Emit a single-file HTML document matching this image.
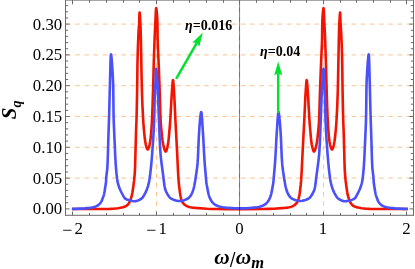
<!DOCTYPE html>
<html><head><meta charset="utf-8"><title>plot</title>
<style>html,body{margin:0;padding:0;background:#fff;}body{width:415px;height:269px;overflow:hidden;}svg{will-change:transform;display:block;position:absolute;left:0;top:0;}text{font-family:"Liberation Serif",serif;fill:#000;}</style></head><body>
<svg width="415" height="269" viewBox="0 0 415 269">
<rect x="0" y="0" width="415" height="269" fill="#fff"/>
<line x1="66" x2="413" y1="178.10" y2="178.10" stroke="#fcc48f" stroke-width="1" stroke-dasharray="4.6 4.61"/>
<line x1="66" x2="413" y1="147.30" y2="147.30" stroke="#fcc48f" stroke-width="1" stroke-dasharray="4.6 4.61"/>
<line x1="66" x2="413" y1="116.50" y2="116.50" stroke="#fcc48f" stroke-width="1" stroke-dasharray="4.6 4.61"/>
<line x1="66" x2="413" y1="85.70" y2="85.70" stroke="#fcc48f" stroke-width="1" stroke-dasharray="4.6 4.61"/>
<line x1="66" x2="413" y1="54.90" y2="54.90" stroke="#fcc48f" stroke-width="1" stroke-dasharray="4.6 4.61"/>
<line x1="66" x2="413" y1="24.10" y2="24.10" stroke="#fcc48f" stroke-width="1" stroke-dasharray="4.6 4.61"/>
<line x1="156.50" x2="156.50" y1="215" y2="0" stroke="#fcc48f" stroke-width="1" stroke-dasharray="4.6 4.61"/>
<line x1="239.50" x2="239.50" y1="215" y2="0" stroke="#fcc48f" stroke-width="1" stroke-dasharray="4.6 4.61"/>
<line x1="323.50" x2="323.50" y1="215" y2="0" stroke="#fcc48f" stroke-width="1" stroke-dasharray="4.6 4.61"/>
<path d="M71.90,209.00 L98.90,209.00 L110.00,208.90 L113.45,208.73 L118.07,208.24 L120.44,207.83 L123.06,207.19 L124.82,206.60 L125.65,206.24 L126.29,205.90 L126.75,205.59 L127.32,205.11 L128.25,204.07 L129.18,202.70 L129.89,201.23 L130.85,198.68 L131.58,196.38 L132.01,194.64 L132.45,192.28 L133.53,185.01 L134.08,180.69 L134.62,174.87 L134.95,170.08 L135.14,164.83 L135.89,136.64 L136.13,129.29 L136.48,120.75 L136.72,111.61 L137.12,90.91 L137.46,64.36 L137.72,53.11 L138.00,44.72 L138.36,35.88 L138.55,32.13 L139.11,23.90 L139.42,14.87 L139.54,12.81 L139.58,12.62 L139.62,12.63 L139.72,13.17 L139.99,16.60 L140.36,23.11 L140.61,29.16 L140.89,39.95 L141.60,77.60 L141.93,91.24 L142.46,106.09 L143.22,120.62 L143.53,125.25 L143.97,130.34 L144.69,137.52 L145.18,141.24 L145.77,144.35 L146.13,145.86 L146.55,147.31 L146.87,148.26 L147.20,148.99 L147.51,149.42 L147.66,149.50 L147.76,149.49 L148.02,149.29 L148.29,148.84 L148.63,148.06 L148.96,147.08 L149.65,144.48 L150.17,141.78 L150.53,139.12 L150.87,135.82 L151.42,129.38 L151.78,124.14 L152.22,115.15 L152.63,103.91 L153.12,87.87 L153.77,62.97 L154.48,41.99 L154.84,33.14 L155.36,22.72 L155.81,12.13 L156.01,9.18 L156.10,8.45 L156.20,8.20 L156.31,8.47 L156.45,9.30 L156.80,12.51 L157.15,16.95 L157.36,20.90 L157.48,26.06 L157.62,38.37 L157.73,43.01 L158.47,59.35 L159.26,78.98 L159.90,97.42 L160.36,113.77 L160.64,120.81 L160.82,123.95 L161.13,127.54 L162.09,136.96 L162.56,140.68 L163.17,144.19 L164.06,147.93 L164.47,149.31 L164.88,150.46 L165.24,151.18 L165.57,151.56 L165.79,151.58 L166.06,151.32 L166.34,150.78 L166.67,149.88 L167.31,147.48 L167.99,144.09 L168.37,141.62 L168.70,138.79 L169.93,124.88 L170.51,116.35 L171.54,97.32 L172.24,87.17 L172.50,83.73 L172.72,81.47 L172.91,80.36 L172.99,80.20 L173.07,80.31 L173.29,81.57 L173.55,84.42 L174.32,96.55 L175.45,120.98 L177.12,152.44 L178.01,171.17 L178.42,178.35 L178.80,182.99 L179.14,186.12 L180.00,193.12 L180.54,196.24 L181.10,198.63 L181.74,200.59 L182.07,201.38 L182.43,202.05 L182.94,202.84 L183.53,203.58 L184.16,204.25 L184.70,204.72 L186.00,205.59 L187.52,206.36 L188.98,206.92 L190.44,207.29 L192.61,207.61 L195.14,207.88 L206.72,208.76 L211.36,208.93 L216.46,209.05 L229.81,209.17 L245.84,209.19 L262.79,209.06 L269.24,208.90 L273.88,208.70 L284.71,207.87 L287.09,207.61 L289.26,207.29 L290.43,207.01 L291.60,206.61 L292.75,206.10 L293.82,205.52 L294.78,204.89 L295.44,204.35 L296.07,203.70 L296.76,202.84 L297.56,201.52 L298.11,200.19 L298.68,198.33 L299.22,195.94 L299.61,193.72 L299.94,191.34 L300.75,184.48 L301.12,180.45 L301.66,171.77 L302.58,152.44 L304.20,122.00 L305.35,97.00 L306.14,84.61 L306.40,81.70 L306.61,80.35 L306.69,80.20 L306.78,80.31 L306.96,81.35 L307.19,83.56 L307.45,86.97 L308.16,97.32 L309.19,116.35 L309.78,125.03 L311.02,138.94 L311.35,141.76 L311.75,144.27 L312.39,147.48 L313.08,150.02 L313.41,150.89 L313.69,151.38 L313.96,151.60 L314.18,151.53 L314.51,151.10 L314.87,150.33 L315.28,149.15 L315.74,147.56 L316.21,145.66 L316.63,143.68 L317.23,140.09 L317.64,136.66 L318.60,127.24 L318.89,123.80 L319.07,120.66 L319.34,113.77 L319.80,97.42 L320.44,78.98 L321.23,59.35 L321.97,43.01 L322.08,38.37 L322.22,26.06 L322.34,20.90 L322.55,16.95 L322.90,12.51 L323.25,9.30 L323.39,8.47 L323.50,8.20 L323.60,8.45 L323.69,9.18 L323.89,12.13 L324.34,22.72 L324.86,33.14 L325.22,41.99 L325.93,62.97 L326.58,87.87 L327.07,103.91 L327.48,115.15 L327.92,124.14 L328.28,129.38 L328.83,135.82 L329.17,139.12 L329.53,141.78 L330.05,144.48 L330.74,147.08 L331.07,148.06 L331.41,148.84 L331.68,149.29 L331.94,149.49 L332.04,149.50 L332.19,149.42 L332.50,148.99 L332.83,148.26 L333.15,147.31 L333.57,145.86 L333.93,144.35 L334.52,141.24 L335.01,137.52 L335.73,130.34 L336.17,125.25 L336.48,120.62 L337.24,106.09 L337.77,91.24 L338.10,77.60 L338.81,39.95 L339.09,29.16 L339.34,23.11 L339.71,16.60 L339.98,13.17 L340.08,12.63 L340.12,12.62 L340.16,12.81 L340.28,14.87 L340.59,23.90 L341.15,32.13 L341.34,35.88 L341.70,44.72 L341.98,53.11 L342.24,64.36 L342.58,90.91 L342.98,111.61 L343.22,120.75 L343.57,129.29 L343.81,136.64 L344.56,164.83 L344.75,170.08 L345.08,174.87 L345.62,180.69 L346.17,185.01 L347.25,192.28 L347.69,194.64 L348.12,196.38 L348.85,198.68 L349.81,201.23 L350.52,202.70 L351.45,204.07 L352.38,205.11 L352.95,205.59 L353.41,205.90 L354.05,206.24 L354.88,206.60 L356.64,207.19 L359.26,207.83 L361.63,208.24 L366.25,208.73 L369.70,208.90 L380.80,209.00 L407.80,209.00" fill="none" stroke="#f21400" stroke-width="2.6" stroke-linejoin="round"/>
<path d="M71.90,208.90 L76.00,208.84 L80.21,208.65 L84.69,208.35 L89.42,207.91 L91.39,207.61 L93.22,207.21 L94.97,206.70 L96.56,206.09 L97.18,205.79 L97.79,205.40 L99.00,204.44 L100.12,203.30 L101.16,201.93 L101.61,201.17 L101.91,200.52 L102.43,198.93 L103.48,196.10 L103.87,194.82 L104.23,193.22 L104.56,191.45 L105.87,183.29 L106.01,181.80 L106.29,176.86 L107.23,169.11 L107.49,165.23 L107.84,156.69 L108.34,138.84 L109.12,115.60 L110.49,62.36 L110.74,56.40 L110.87,54.90 L110.94,54.52 L111.00,54.40 L111.08,54.53 L111.16,54.93 L111.37,56.45 L111.92,62.43 L112.51,70.82 L112.98,79.47 L113.15,83.91 L113.24,87.89 L113.54,112.94 L113.64,118.04 L113.79,122.99 L115.30,157.16 L115.90,167.00 L116.40,172.72 L117.09,178.68 L117.53,181.65 L118.08,183.98 L118.97,186.70 L119.82,188.94 L120.73,190.99 L121.61,192.75 L123.81,196.87 L124.30,197.67 L124.75,198.23 L125.23,198.65 L125.87,199.02 L126.73,199.43 L127.83,199.86 L129.02,200.24 L130.27,200.58 L131.55,200.85 L132.82,201.05 L134.05,201.17 L135.07,201.20 L135.65,201.16 L136.38,201.04 L137.13,200.84 L137.87,200.57 L139.46,199.83 L141.02,198.87 L142.00,198.11 L142.49,197.58 L142.96,196.98 L144.12,195.12 L145.49,192.63 L146.43,190.57 L147.24,188.47 L148.01,186.04 L148.69,183.42 L149.24,180.78 L149.66,178.26 L150.33,173.06 L150.96,167.39 L151.49,161.86 L152.00,155.88 L153.15,140.02 L153.72,130.44 L154.11,121.75 L154.31,114.85 L154.66,99.25 L154.90,91.91 L155.37,84.33 L155.90,71.45 L156.05,69.45 L156.12,68.98 L156.20,68.80 L156.31,69.09 L156.44,69.93 L156.78,73.38 L157.20,79.28 L157.66,86.70 L158.05,95.69 L158.87,118.62 L159.77,140.81 L160.09,146.95 L160.42,152.34 L160.69,155.62 L161.05,159.05 L161.68,164.26 L163.22,175.72 L164.06,182.72 L164.56,186.30 L165.00,188.49 L165.38,189.78 L165.92,191.20 L166.63,192.72 L167.42,194.17 L168.28,195.58 L169.10,196.75 L169.92,197.68 L170.68,198.32 L172.27,199.16 L174.10,199.93 L175.92,200.50 L177.76,200.88 L179.24,201.00 L180.72,200.92 L182.40,200.63 L184.08,200.16 L185.84,199.51 L187.42,198.76 L188.35,198.22 L189.23,197.46 L190.23,196.25 L191.25,194.67 L192.10,192.97 L192.83,191.14 L193.48,189.11 L193.99,187.08 L194.38,185.17 L195.23,180.44 L196.54,171.83 L197.33,165.58 L197.64,162.15 L197.96,157.06 L198.77,137.87 L199.30,129.22 L199.87,121.84 L200.40,116.41 L200.84,113.10 L201.03,112.27 L201.12,112.06 L201.20,112.00 L201.29,112.10 L201.39,112.40 L201.59,113.54 L201.80,115.57 L202.03,118.37 L203.21,136.93 L204.12,154.15 L204.54,161.19 L204.96,166.57 L205.86,176.58 L206.24,181.37 L206.43,183.01 L206.72,184.78 L208.24,192.91 L208.71,194.79 L209.32,196.66 L210.28,198.91 L210.84,199.98 L211.45,201.00 L212.02,201.82 L212.71,202.66 L213.47,203.45 L214.17,204.06 L214.88,204.58 L215.61,204.99 L216.79,205.56 L218.05,206.08 L219.22,206.49 L220.41,206.83 L221.61,207.10 L222.65,207.27 L228.81,207.92 L231.80,208.14 L234.66,208.29 L237.55,208.38 L240.61,208.40 L243.37,208.35 L246.10,208.25 L251.33,207.88 L256.85,207.30 L258.69,206.98 L260.48,206.49 L261.65,206.08 L262.91,205.56 L264.09,204.99 L264.94,204.50 L265.77,203.87 L266.56,203.12 L267.29,202.30 L268.03,201.33 L268.94,199.85 L269.74,198.22 L270.43,196.52 L271.03,194.64 L271.36,193.35 L271.66,191.88 L273.06,184.34 L273.37,182.26 L274.79,165.98 L275.18,160.89 L275.59,154.00 L276.49,136.93 L277.66,118.55 L278.10,113.64 L278.31,112.40 L278.41,112.10 L278.50,112.00 L278.58,112.06 L278.67,112.27 L278.86,113.10 L279.30,116.41 L279.83,121.84 L280.40,129.22 L280.93,137.87 L281.75,157.21 L282.06,162.15 L282.39,165.73 L283.18,171.98 L284.49,180.58 L285.32,185.17 L285.74,187.23 L286.26,189.25 L286.92,191.28 L287.66,193.11 L288.53,194.80 L289.56,196.38 L290.58,197.57 L291.46,198.30 L292.65,198.96 L294.29,199.68 L296.07,200.30 L297.76,200.73 L299.43,200.96 L300.89,200.98 L302.40,200.80 L304.24,200.37 L306.18,199.71 L308.20,198.78 L308.90,198.39 L309.46,197.98 L310.20,197.24 L310.98,196.24 L311.75,195.06 L312.65,193.52 L313.34,192.17 L313.96,190.78 L314.42,189.49 L314.75,188.30 L315.16,186.16 L315.64,182.72 L316.46,175.87 L318.07,163.82 L318.74,158.30 L319.06,155.02 L319.31,151.89 L319.65,146.36 L319.96,140.21 L320.84,118.47 L321.64,95.84 L322.04,86.70 L322.50,79.28 L322.92,73.38 L323.26,69.93 L323.39,69.09 L323.50,68.80 L323.58,68.98 L323.65,69.45 L323.80,71.45 L324.33,84.33 L324.80,91.91 L325.04,99.25 L325.39,114.85 L325.59,121.75 L325.98,130.44 L326.56,140.17 L327.73,156.18 L328.24,162.16 L328.77,167.69 L329.39,173.21 L330.04,178.26 L330.46,180.78 L331.05,183.56 L331.74,186.19 L332.56,188.75 L333.38,190.85 L334.42,193.03 L335.89,195.66 L336.92,197.23 L337.40,197.80 L337.80,198.21 L339.05,199.11 L340.66,200.05 L342.28,200.74 L343.02,200.97 L343.76,201.12 L344.34,201.19 L345.06,201.20 L346.26,201.12 L347.51,200.96 L348.79,200.72 L350.06,200.42 L351.28,200.06 L352.43,199.65 L353.47,199.20 L354.37,198.72 L354.67,198.50 L355.04,198.13 L355.65,197.28 L358.30,192.35 L359.09,190.72 L359.77,189.21 L361.08,185.70 L361.81,183.25 L362.27,181.06 L362.76,177.49 L363.36,172.12 L363.85,166.29 L364.42,156.71 L365.92,122.69 L366.16,112.79 L366.46,87.89 L366.55,83.91 L366.72,79.47 L367.19,70.82 L367.78,62.43 L368.33,56.45 L368.54,54.93 L368.62,54.53 L368.70,54.40 L368.76,54.52 L368.83,54.90 L368.96,56.40 L369.21,62.36 L370.58,115.60 L371.36,138.84 L371.86,156.69 L372.21,165.23 L372.47,169.11 L373.41,176.86 L373.69,181.80 L373.83,183.29 L375.14,191.45 L375.47,193.22 L375.83,194.82 L376.22,196.10 L377.27,198.93 L377.79,200.52 L378.09,201.17 L378.54,201.93 L379.58,203.30 L380.70,204.44 L381.91,205.40 L382.52,205.79 L383.14,206.09 L384.73,206.70 L386.48,207.21 L388.31,207.61 L390.28,207.91 L395.01,208.35 L399.49,208.65 L403.70,208.84 L407.80,208.90" fill="none" stroke="#4a50fa" stroke-width="2.6" stroke-linejoin="round"/>
<line x1="239.55" x2="239.55" y1="0" y2="215" stroke="#000" stroke-opacity="0.47" stroke-width="1.05"/>
<path d="M65.5,0 V215.3 M413.5,0 V215.3 M65,215.3 H414 M65,0.1 H414" fill="none" stroke="#6a6a6a" stroke-width="1"/>
<path d="M72.50,215.3 v-3.70 M72.50,0 v4.3 M89.50,215.3 v-2.40 M89.50,0 v2.8 M106.50,215.3 v-2.40 M106.50,0 v2.8 M123.50,215.3 v-2.40 M123.50,0 v2.8 M139.50,215.3 v-2.40 M139.50,0 v2.8 M156.50,215.3 v-3.70 M156.50,0 v4.3 M173.50,215.3 v-2.40 M173.50,0 v2.8 M189.50,215.3 v-2.40 M189.50,0 v2.8 M206.50,215.3 v-2.40 M206.50,0 v2.8 M223.50,215.3 v-2.40 M223.50,0 v2.8 M239.50,215.3 v-3.70 M239.50,0 v4.3 M256.50,215.3 v-2.40 M256.50,0 v2.8 M273.50,215.3 v-2.40 M273.50,0 v2.8 M290.50,215.3 v-2.40 M290.50,0 v2.8 M306.50,215.3 v-2.40 M306.50,0 v2.8 M323.50,215.3 v-3.70 M323.50,0 v4.3 M340.50,215.3 v-2.40 M340.50,0 v2.8 M356.50,215.3 v-2.40 M356.50,0 v2.8 M373.50,215.3 v-2.40 M373.50,0 v2.8 M390.50,215.3 v-2.40 M390.50,0 v2.8 M406.50,215.3 v-3.70 M406.50,0 v4.3 M66,208.90 h3.6 M413,208.90 h-3.6 M66,202.74 h2.2 M413,202.74 h-2.2 M66,196.58 h2.2 M413,196.58 h-2.2 M66,190.42 h2.2 M413,190.42 h-2.2 M66,184.26 h2.2 M413,184.26 h-2.2 M66,178.10 h3.6 M413,178.10 h-3.6 M66,171.94 h2.2 M413,171.94 h-2.2 M66,165.78 h2.2 M413,165.78 h-2.2 M66,159.62 h2.2 M413,159.62 h-2.2 M66,153.46 h2.2 M413,153.46 h-2.2 M66,147.30 h3.6 M413,147.30 h-3.6 M66,141.14 h2.2 M413,141.14 h-2.2 M66,134.98 h2.2 M413,134.98 h-2.2 M66,128.82 h2.2 M413,128.82 h-2.2 M66,122.66 h2.2 M413,122.66 h-2.2 M66,116.50 h3.6 M413,116.50 h-3.6 M66,110.34 h2.2 M413,110.34 h-2.2 M66,104.18 h2.2 M413,104.18 h-2.2 M66,98.02 h2.2 M413,98.02 h-2.2 M66,91.86 h2.2 M413,91.86 h-2.2 M66,85.70 h3.6 M413,85.70 h-3.6 M66,79.54 h2.2 M413,79.54 h-2.2 M66,73.38 h2.2 M413,73.38 h-2.2 M66,67.22 h2.2 M413,67.22 h-2.2 M66,61.06 h2.2 M413,61.06 h-2.2 M66,54.90 h3.6 M413,54.90 h-3.6 M66,48.74 h2.2 M413,48.74 h-2.2 M66,42.58 h2.2 M413,42.58 h-2.2 M66,36.42 h2.2 M413,36.42 h-2.2 M66,30.26 h2.2 M413,30.26 h-2.2 M66,24.10 h3.6 M413,24.10 h-3.6 M66,17.94 h2.2 M413,17.94 h-2.2 M66,11.78 h2.2 M413,11.78 h-2.2 M66,5.62 h2.2 M413,5.62 h-2.2" stroke="#6a6a6a" stroke-width="1" fill="none"/>
<text x="62.2" y="214.40" font-size="16.8" text-anchor="end">0.00</text>
<text x="62.2" y="183.60" font-size="16.8" text-anchor="end">0.05</text>
<text x="62.2" y="152.80" font-size="16.8" text-anchor="end">0.10</text>
<text x="62.2" y="122.00" font-size="16.8" text-anchor="end">0.15</text>
<text x="62.2" y="91.20" font-size="16.8" text-anchor="end">0.20</text>
<text x="62.2" y="60.40" font-size="16.8" text-anchor="end">0.25</text>
<text x="62.2" y="29.60" font-size="16.8" text-anchor="end">0.30</text>
<text y="234" font-size="16.8"><tspan x="62.30" dy="1.6" font-size="18">−</tspan><tspan x="74.50" dy="-1.6">2</tspan></text>
<text y="234" font-size="16.8"><tspan x="146.30" dy="1.6" font-size="18">−</tspan><tspan x="158.50" dy="-1.6">1</tspan></text>
<text x="239.50" y="234" font-size="16.8" text-anchor="middle">0</text>
<text x="323.00" y="234" font-size="16.8" text-anchor="middle">1</text>
<text x="406.50" y="234" font-size="16.8" text-anchor="middle">2</text>
<text x="214.3" y="264.2" font-size="21.3" font-weight="bold" font-style="italic">ω</text>
<text transform="translate(229.9,267.2) scale(1,1.2)" font-size="19" font-weight="bold">/</text>
<text x="235.75" y="264.2" font-size="21.3" font-weight="bold" font-style="italic">ω<tspan font-size="16.5" dy="3.7">m</tspan></text>
<text transform="translate(16.0,119.3) rotate(-90)" font-size="21" font-weight="bold" font-style="italic">S<tspan font-size="14" dy="4.9">q</tspan></text>
<text x="185" y="29.8" font-size="14" font-weight="bold"><tspan font-style="italic">η</tspan>=0.016</text>
<text x="260" y="56" font-size="14" font-weight="bold"><tspan font-style="italic">η</tspan>=0.04</text>
<line x1="176.10" y1="78.80" x2="196.71" y2="43.07" stroke="#05e030" stroke-width="2.5"/><path d="M202.80,32.50 L199.37,46.45 L196.71,43.07 L192.44,42.46 Z" fill="#05e030"/>
<line x1="278.20" y1="113.20" x2="278.20" y2="73.60" stroke="#05e030" stroke-width="2.5"/><path d="M278.20,61.40 L282.20,75.20 L278.20,73.60 L274.20,75.20 Z" fill="#05e030"/>
</svg></body></html>
